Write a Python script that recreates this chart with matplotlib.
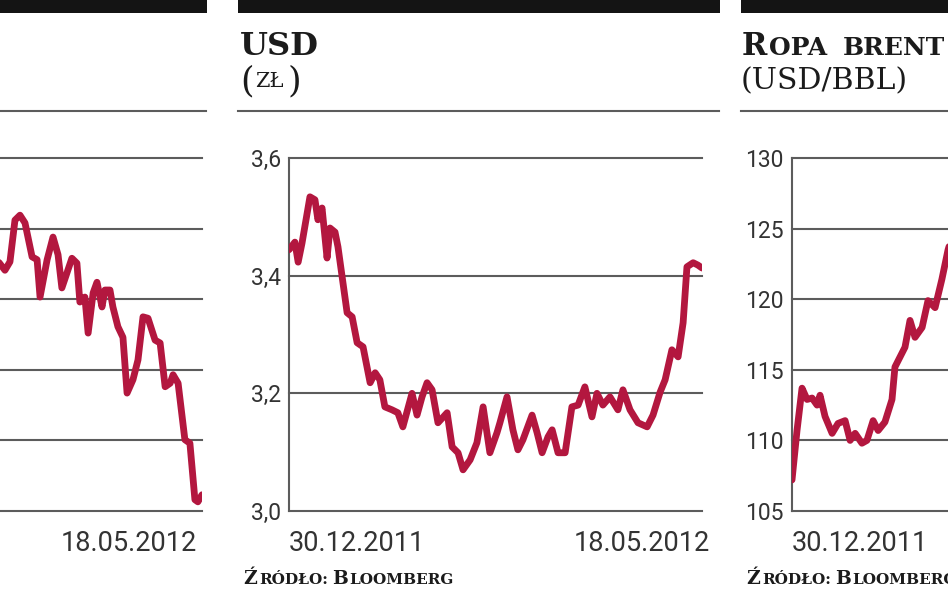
import matplotlib
matplotlib.use("Agg")
import matplotlib.pyplot as plt
from matplotlib.patches import Rectangle
from matplotlib.lines import Line2D
from matplotlib.transforms import ScaledTranslation

# ---------------- data ----------------
date_labels = ["30.12.2011", "18.05.2012"]
date_span = [0, 140]          # calendar days from 30.12.2011 to 18.05.2012

# left panel (index, cut off by the frame)
left_days = [71, 73.2, 74.9, 76.6, 78.3, 80.0, 82.4, 84.1, 85.1, 87.5, 89.5, 91.2,
             92.5, 94.2, 95.9, 97.6, 98.6, 100.3, 101.4, 103.1, 104.4, 106.1, 107.1,
             108.8, 109.8, 111.5, 113.2, 114.6, 116.6, 118.3, 120.0, 121.7, 124.1,
             125.8, 127.5, 129.2, 130.2, 131.9, 134.2, 135.9, 137.6, 138.6, 140]
left_vals = [2353, 2341, 2353, 2412, 2419, 2408, 2360, 2356, 2303, 2356, 2388, 2363,
             2316, 2337, 2358, 2351, 2296, 2303, 2252, 2309, 2324, 2289, 2313,
             2313, 2289, 2261, 2246, 2167, 2186, 2214, 2275, 2273, 2242,
             2238, 2176, 2181, 2193, 2181, 2101, 2096, 2016, 2013, 2023]
left_ticks = [2000, 2100, 2200, 2300, 2400, 2500]

# USD (zł)
usd_days = [0, 2.0, 3.1, 4.4, 7.1, 8.8, 9.8, 11.2, 12.9, 13.9, 15.6, 16.6, 19.7, 21.4,
            23.1, 25.1, 27.5, 29.2, 30.8, 32.5, 34.9, 36.9, 38.6, 41.7, 43.4, 45.1,
            46.8, 48.5, 50.5, 53.6, 55.3, 57.3, 59.0, 61.4, 63.7, 65.8, 68.1, 70.5,
            71.5, 73.9, 75.9, 77.6, 79.3, 82.4, 84.1, 85.8, 87.8, 89.2, 91.2, 93.6,
            95.9, 98.0, 100.3, 102.7, 104.4, 106.4, 108.8, 111.5, 113.2, 115.6,
            118.3, 121.4, 123.4, 125.8, 127.5, 129.8, 131.9, 133.6, 134.9, 137.0,
            138.6, 140.0]
usd_vals = [3.444, 3.457, 3.423, 3.455, 3.534, 3.529, 3.495, 3.515, 3.430, 3.481,
            3.474, 3.449, 3.337, 3.330, 3.286, 3.279, 3.218, 3.235, 3.223, 3.177,
            3.172, 3.167, 3.143, 3.200, 3.163, 3.194, 3.218, 3.206, 3.150, 3.167,
            3.109, 3.099, 3.070, 3.087, 3.116, 3.177, 3.099, 3.133, 3.150, 3.194,
            3.138, 3.104, 3.121, 3.163, 3.133, 3.099, 3.126, 3.138, 3.099, 3.099,
            3.177, 3.180, 3.211, 3.160, 3.200, 3.180, 3.194, 3.172, 3.206, 3.172,
            3.150, 3.143, 3.163, 3.202, 3.223, 3.274, 3.262, 3.320, 3.415, 3.422,
            3.418, 3.413]
usd_ticks = [3.0, 3.2, 3.4, 3.6]
usd_ticklabels = ["3,0", "3,2", "3,4", "3,6"]

# Ropa brent (USD/bbl)
brent_days = [0, 1.7, 3.4, 5.1, 6.8, 8.5, 9.5, 11.2, 13.6, 15.6, 18.0, 19.7, 21.4,
              23.7, 25.4, 27.5, 29.2, 31.5, 33.9, 34.9, 36.6, 38.3, 40.0, 41.7,
              44.1, 46.1, 48.5, 50.8, 52.9, 53.9]
brent_vals = [107.2, 110.7, 113.7, 112.9, 113.0, 112.5, 113.2, 111.7, 110.5, 111.2,
              111.4, 110.0, 110.5, 109.8, 110.0, 111.4, 110.7, 111.3, 112.9, 115.2,
              115.9, 116.6, 118.5, 117.3, 118.0, 119.9, 119.4, 121.4, 123.5, 124.2]
brent_ticks = [105, 110, 115, 120, 125, 130]
brent_ticklabels = ["105", "110", "115", "120", "125", "130"]

# ---------------- style ----------------
W, H, DPI = 948, 593, 100
RED = "#B3173F"
GRID = "#5c5c5c"
TXT = "#333333"
DARK = "#1b1b1b"
SANS = ["Roboto", "DejaVu Sans"]
SERIF = ["DejaVu Serif"]

fig = plt.figure(figsize=(W / DPI, H / DPI), dpi=DPI)
fig.patch.set_facecolor("white")


def fx(x):
    return x / W


def fy(y):
    return 1 - y / H


PLOT_W, PLOT_TOP, PLOT_BOT = 413, 158, 511


def panel(left_px, days, vals, ticks, ticklabels, end_shift_px):
    ax = fig.add_axes([fx(left_px), fy(PLOT_BOT), PLOT_W / W, (PLOT_BOT - PLOT_TOP) / H])
    ax.set_facecolor("none")
    for s in ["top", "right", "bottom"]:
        ax.spines[s].set_visible(False)
    ax.spines["left"].set_color(GRID)
    ax.spines["left"].set_linewidth(1.5)
    ax.set_xlim(date_span[0], date_span[1])
    ax.set_ylim(ticks[0], ticks[-1])
    for t in ticks:
        ax.axhline(t, color=GRID, lw=1.5, clip_on=False, zorder=1)
    ax.set_yticks(ticks, ticklabels)
    ax.tick_params(axis="y", length=0, pad=6, labelsize=16.5, labelcolor=TXT)
    for lab in ax.get_yticklabels():
        lab.set_fontfamily(SANS)
    ax.set_xticks(date_span, date_labels)
    ax.tick_params(axis="x", length=0, pad=14, labelsize=19.5, labelcolor=TXT)
    xl = ax.get_xticklabels()
    for lab in xl:
        lab.set_fontfamily(SANS)
    xl[0].set_ha("left")
    xl[1].set_ha("right")
    xl[1].set_transform(xl[1].get_transform() +
                        ScaledTranslation(end_shift_px / DPI, 0, fig.dpi_scale_trans))
    ax.plot(days, vals, color=RED, lw=4.9, solid_joinstyle="round",
            solid_capstyle="round", zorder=3)
    return ax


panel(202 - PLOT_W, left_days, left_vals, left_ticks, [str(t) for t in left_ticks], -5)
panel(289, usd_days, usd_vals, usd_ticks, usd_ticklabels, 8)
panel(792, brent_days, brent_vals, brent_ticks, brent_ticklabels, 8)

# top black bars and separator rules
for x0, x1 in [(-10, 207), (238, 720), (741, 960)]:
    fig.add_artist(Rectangle((fx(x0), fy(13)), fx(x1) - fx(x0), 14 / H,
                             transform=fig.transFigure, color="#141414", lw=0))
    fig.add_artist(Line2D([fx(x0), fx(x1 - 1)], [fy(111), fy(111)],
                          transform=fig.transFigure, color=GRID, lw=1.5))

# titles
fig.text(fx(240), fy(55), "USD", fontfamily=SERIF, fontweight="bold",
         fontsize=23, color=DARK, va="baseline")
fig.text(fx(240), fy(91), "(", fontfamily=SERIF, fontsize=25, color=DARK, va="baseline")
fig.text(fx(255), fy(87), "ZŁ", fontfamily=SERIF, fontsize=15, color=DARK, va="baseline")
fig.text(fx(288), fy(91), ")", fontfamily=SERIF, fontsize=25, color=DARK, va="baseline")

fig.text(fx(742), fy(55), "R", fontfamily=SERIF, fontweight="bold",
         fontsize=22, color=DARK, va="baseline")
fig.text(fx(769), fy(55), "OPA", fontfamily=SERIF, fontweight="bold",
         fontsize=18, color=DARK, va="baseline")
fig.text(fx(843), fy(55), "BRENT", fontfamily=SERIF, fontweight="bold",
         fontsize=18, color=DARK, va="baseline")
fig.text(fx(741), fy(89), "(USD/BBL)", fontfamily=SERIF, fontsize=21.5,
         color=DARK, va="baseline")

# source lines
for off in (0, 503):
    fig.text(fx(243 + off), fy(584), "Ź", fontfamily=SERIF, fontweight="bold",
             fontsize=13.5, color=DARK, va="baseline")
    fig.text(fx(259 + off), fy(584), "RÓDŁO:", fontfamily=SERIF, fontweight="bold",
             fontsize=11, color=DARK, va="baseline")
    fig.text(fx(332 + off), fy(584), "B", fontfamily=SERIF, fontweight="bold",
             fontsize=13.5, color=DARK, va="baseline")
    fig.text(fx(349 + off), fy(584), "LOOMBERG", fontfamily=SERIF, fontweight="bold",
             fontsize=11, color=DARK, va="baseline")

fig.savefig("out.png", dpi=DPI, facecolor="white")
